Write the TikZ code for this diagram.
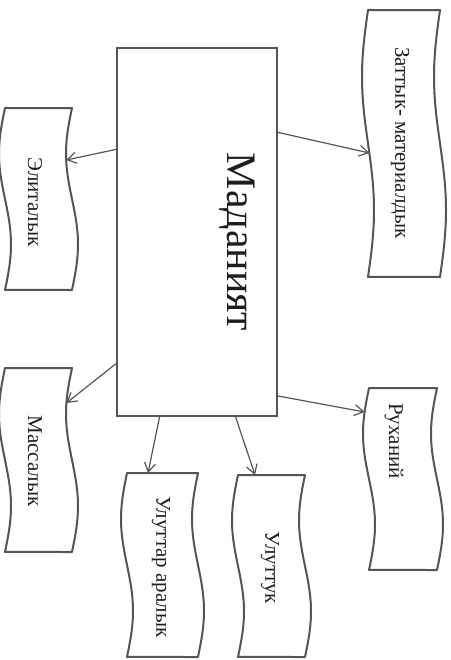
\documentclass[tikz,border=0pt]{standalone}
\usepackage{fontspec}
\setmainfont{Liberation Serif}
\usetikzlibrary{arrows.meta,calc}
\definecolor{ink}{HTML}{555555}
\definecolor{txt}{HTML}{1E1E1E}
\newcommand\wavA{6}
\newcommand\tapebox[7]{%
  \draw[tapeline] plot[domain=0:1,samples=41] ({#2-\wavA*sin(360*\x)},{#4+\x*(#5-#4)})
    -- plot[domain=1:0,samples=41] ({#3-\wavA*sin(360*\x)},{#4+\x*(#5-#4)}) -- cycle;
  \node[tapetext] (#1) at (#6) {#7};
}
\tikzset{
  tapeline/.style={draw=ink, line width=2pt, line join=round},
  tapetext/.style={rotate=-90, inner sep=0pt, text=txt, font=\fontsize{21}{24}\selectfont},
  mainbox/.style={draw=ink, line width=2.2pt, minimum width=160pt, minimum height=368pt, inner sep=0pt},
  maintext/.style={rotate=-90, inner sep=0pt, text=txt, font=\fontsize{42}{48}\selectfont},
  arr/.style={draw=ink, line width=1.2pt, -{Straight Barb[length=9pt,width=11pt]}}
}
\begin{document}
\begin{tikzpicture}[x=1pt,y=-1pt]
\useasboundingbox (0,0) rectangle (450,660);
\fill[white] (0,0) rectangle (450,660);
% central box
\node[mainbox] (main) at (197,232) {};
\node[maintext] (mtext) at (237,242) {Маданият};
% tape shapes
\tapebox{eli}{5}{72}{108}{290}{35,202}{Элиталык}
\tapebox{zat}{368}{440}{10}{277}{400,143}{Заттык- материалдык}
\tapebox{mas}{5}{72}{368}{552}{35,461}{Массалык}
\tapebox{ula}{127}{198}{473}{657}{161,567}{Улуттар аралык}
\tapebox{ulu}{238}{305}{475}{657}{270,568}{Улуттук}
\tapebox{ruh}{369}{437}{388}{570}{394,441}{Руханий}
% connector ends on the box
\coordinate (s1) at ($(main.north west)!0.277!(main.south west)$);
\coordinate (s2) at ($(main.north west)!0.856!(main.south west)$);
\coordinate (s3) at ($(main.north east)!0.231!(main.south east)$);
\coordinate (s4) at ($(main.north east)!0.943!(main.south east)$);
\coordinate (s5) at ($(main.south west)!0.269!(main.south east)$);
\coordinate (s6) at ($(main.south west)!0.738!(main.south east)$);
% connector ends on the tapes
\coordinate (t1) at ({72-\wavA*sin(52/182*360)},160);
\coordinate (t2) at ({72-\wavA*sin(35/184*360)},403);
\coordinate (t3) at ({368-\wavA*sin(143/267*360)},153);
\coordinate (t4) at ({369-\wavA*sin(24/182*360)},412);
\coordinate (t5) at (148,473);
\coordinate (t6) at (255,475);
\draw[arr] (s1) -- (t1);
\draw[arr] (s2) -- (t2);
\draw[arr] (s3) -- (t3);
\draw[arr] (s4) -- (t4);
\draw[arr] (s5) -- (t5);
\draw[arr] (s6) -- (t6);
\end{tikzpicture}
\end{document}
